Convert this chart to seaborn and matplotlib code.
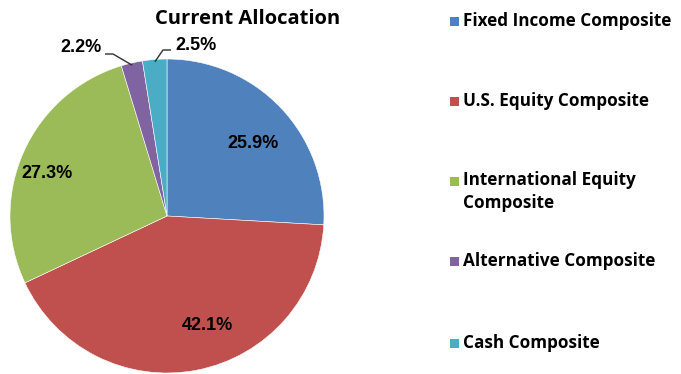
import matplotlib
matplotlib.use("Agg")
import matplotlib.pyplot as plt
import seaborn as sns
import numpy as np
from matplotlib.patches import Rectangle

# Allocation data
categories = ["Fixed Income Composite", "U.S. Equity Composite",
              "International Equity\nComposite", "Alternative Composite",
              "Cash Composite"]
shares = [25.9, 42.1, 27.3, 2.2, 2.5]
colors = ["#4F81BD", "#C0504D", "#9BBB59", "#8064A2", "#4BACC6"]
title = "Current Allocation"

sns.set_theme(style="white")
plt.rcParams["font.family"] = ["Open Sans", "DejaVu Sans"]

W, H = 681, 374
fig = plt.figure(figsize=(W / 100, H / 100), dpi=100)
fig.patch.set_facecolor("white")

# pie axes: centre and radius in pixels
cx, cy, r = 167, 216, 157
ax = fig.add_axes([(cx - r) / W, (H - cy - r) / H, 2 * r / W, 2 * r / H])
wedges, _ = ax.pie(shares, colors=colors, startangle=90, counterclock=False,
                   radius=1, wedgeprops=dict(edgecolor="white", linewidth=0.4))
ax.set_xlim(-1, 1)
ax.set_ylim(-1, 1)
ax.set_aspect("equal")
ax.axis("off")

def px(x, y):
    return ((x - cx) / r, (cy - y) / r)

label_font = dict(family=["Liberation Sans", "DejaVu Sans"], fontweight="bold",
                  fontsize=13, color="black", ha="center", va="center")

# inside labels (positions in pixels)
inside_pos = {0: (253, 144), 1: (207, 325), 2: (47, 174)}
for i, (x, y) in inside_pos.items():
    ax.text(*px(x, y), f"{shares[i]:.1f}%", **label_font)

# outside labels with leader lines
outside = {3: dict(text=(81, 47), elbow=[(105, 54), (113, 54)]),
           4: dict(text=(196, 46), elbow=[(171, 50), (163, 50)])}
for i, spec in outside.items():
    w = wedges[i]
    mid = np.deg2rad((w.theta1 + w.theta2) / 2)
    edge = (0.985 * np.cos(mid), 0.985 * np.sin(mid))
    pts = [px(*p) for p in spec["elbow"]] + [edge]
    xs, ys = zip(*pts)
    ax.plot(xs, ys, color="#303030", lw=1.0, clip_on=False, solid_capstyle="butt")
    t = ax.text(*px(*spec["text"]), f"{shares[i]:.1f}%", **label_font)
    t.set_clip_on(False)

# title
fig.text(248 / W, 1 - 19.5 / H, title, ha="center", va="center",
         fontsize=14.5, fontweight="bold", color="black")

# legend: marker beside the first line of each entry
rows = [21, 101, 181, 261, 343]
line_step = 22
for lab, col, y in zip(categories, colors, rows):
    fig.patches.append(Rectangle((450 / W, 1 - (y + 4.5) / H), 9 / W, 9 / H,
                                 transform=fig.transFigure, facecolor=col,
                                 edgecolor="none"))
    extra = line_step * lab.count("\n")
    fig.text(463 / W, 1 - (y + 4.5 + extra) / H, lab, ha="left", va="baseline",
             fontsize=12.3, fontweight="bold", color="black", linespacing=1.3)

fig.savefig("out.png", dpi=100, facecolor="white")
